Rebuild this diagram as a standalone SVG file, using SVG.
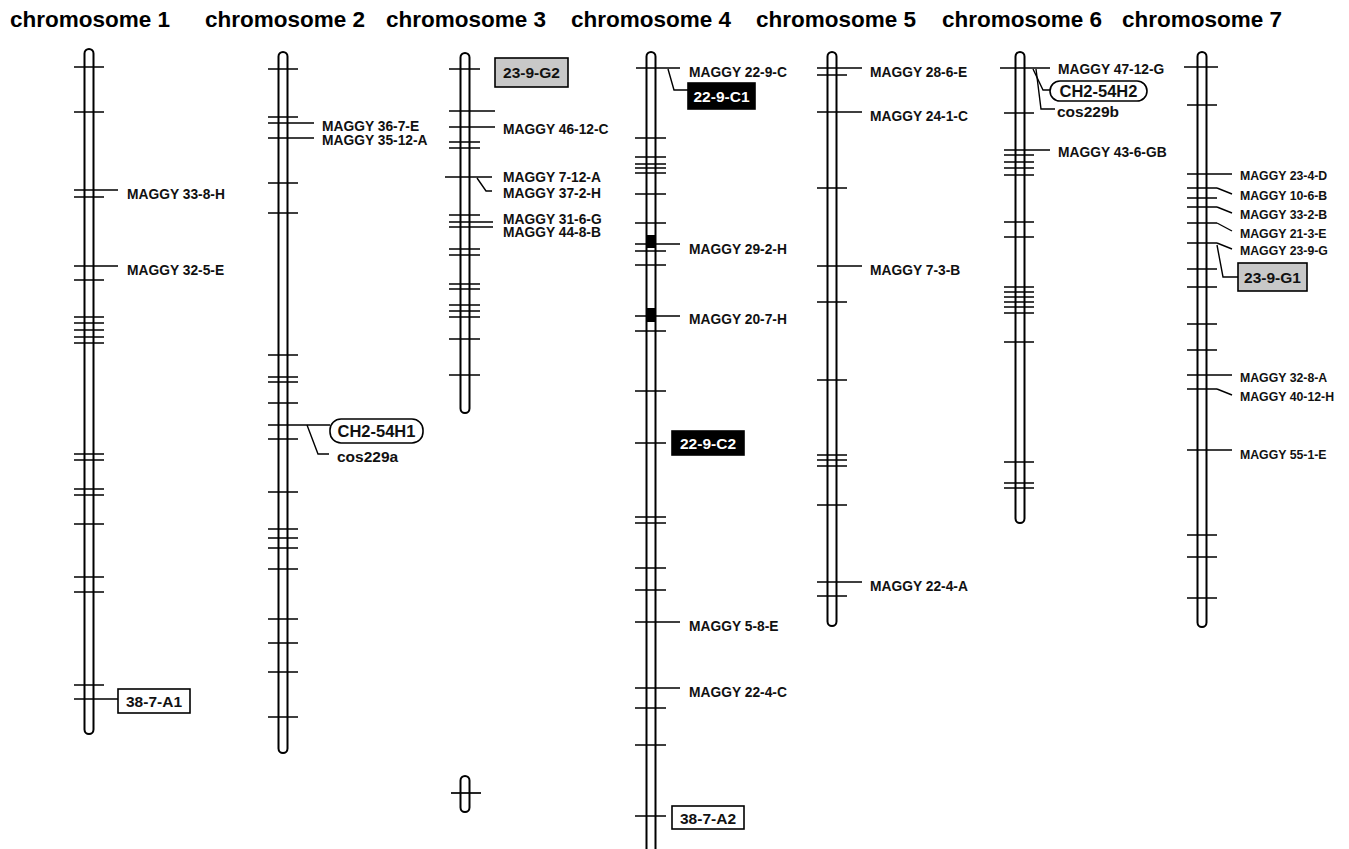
<svg xmlns="http://www.w3.org/2000/svg" width="1349" height="849" viewBox="0 0 1349 849">
<style>
.title{font-family:"Liberation Sans",Arial,sans-serif;font-weight:bold;font-size:22.5px;fill:#000}
.lbl{font-family:"Liberation Sans",Arial,sans-serif;font-weight:bold;font-size:13.8px;fill:#111}
.lbl7{font-family:"Liberation Sans",Arial,sans-serif;font-weight:bold;font-size:12.3px;fill:#111}
.btxt{font-family:"Liberation Sans",Arial,sans-serif;font-weight:bold;font-size:15.5px;fill:#111;text-anchor:middle}
.btxtw{font-family:"Liberation Sans",Arial,sans-serif;font-weight:bold;font-size:15.5px;fill:#fff;text-anchor:middle}
.ctxt{font-family:"Liberation Sans",Arial,sans-serif;font-weight:bold;font-size:16.5px;fill:#111}
.cos{font-family:"Liberation Sans",Arial,sans-serif;font-weight:bold;font-size:15.5px;fill:#111}
.tube{fill:#fff;stroke:#000;stroke-width:2}
.tick{fill:none;stroke:#000;stroke-width:1.7}
.lead{fill:none;stroke:#000;stroke-width:1.4}
.boxw{fill:#fff;stroke:#000;stroke-width:1.6}
.boxg{fill:#c8c8c8;stroke:#000;stroke-width:1.6}
.boxb{fill:#000;stroke:#000;stroke-width:1.6}
.boxr{fill:#fff;stroke:#000;stroke-width:1.6}
</style>
<rect width="1349" height="849" fill="#fff"/>
<g id="titles">
<text class="title" x="10" y="27">chromosome 1</text>
<text class="title" x="205" y="27">chromosome 2</text>
<text class="title" x="386" y="27">chromosome 3</text>
<text class="title" x="571" y="27">chromosome 4</text>
<text class="title" x="756" y="27">chromosome 5</text>
<text class="title" x="942" y="27">chromosome 6</text>
<text class="title" x="1122" y="27">chromosome 7</text>
</g>
<g id="chromosome1">
<rect class="tube" x="84.5" y="49" width="9" height="685" rx="4.5"/>
<path class="tick" d="M74 67H104M74 112H104M74 190H118M74 197H104M74 266H118M74 280H104M74 317H104M74 323H104M74 330H104M74 337H104M74 343H104M74 454H104M74 460H104M74 489H104M74 495H104M74 524H104M74 577H104M74 592H104M74 685H104M74 699H118"/>
<text class="lbl" x="127" y="199">MAGGY 33-8-H</text>
<text class="lbl" x="127" y="275">MAGGY 32-5-E</text>
<rect class="boxw" x="118" y="689" width="72" height="24"/>
<text class="btxt" x="154" y="707">38-7-A1</text>
</g>
<g id="chromosome2">
<rect class="tube" x="278.5" y="52" width="9" height="701" rx="4.5"/>
<path class="tick" d="M268 69H298M268 117H298M268 123H314M268 138H314M268 183H298M268 213H298M268 355H298M268 377H298M268 382H298M268 403H298M268 425H330M268 439H298M268 492H298M268 529H298M268 538H298M268 548H298M268 569H298M268 619H298M268 643H298M268 672H298M268 717H298"/>
<text class="lbl" x="322" y="131">MAGGY 36-7-E</text>
<text class="lbl" x="322" y="145">MAGGY 35-12-A</text>
<rect class="boxr" x="330" y="419" width="93" height="24" rx="11"/>
<text class="ctxt" x="376.5" y="437" text-anchor="middle">CH2-54H1</text>
<text class="cos" x="337" y="462">cos229a</text>
</g>
<g id="chromosome3">
<rect class="tube" x="460.5" y="53" width="9" height="360" rx="4.5"/>
<path class="tick" d="M449 69H480M449 111H495M449 127H495M449 142H480M449 148H480M445 177H492M449 215H480M449 222H493M449 227H493M449 249H480M449 255H480M449 284H480M449 289H480M449 305H480M449 311H480M449 317H480M449 339H480M449 375H480"/>
<rect class="boxg" x="495" y="58" width="73" height="29"/>
<text class="btxt" x="531.5" y="78">23-9-G2</text>
<text class="lbl" x="503" y="134">MAGGY 46-12-C</text>
<text class="lbl" x="503" y="182">MAGGY 7-12-A</text>
<text class="lbl" x="503" y="198">MAGGY 37-2-H</text>
<text class="lbl" x="503" y="224">MAGGY 31-6-G</text>
<text class="lbl" x="503" y="237">MAGGY 44-8-B</text>
<rect class="tube" x="460.5" y="776" width="9" height="36" rx="4.5"/>
<path class="tick" d="M451 793H481"/>
</g>
<g id="chromosome4">
<rect class="tube" x="646.5" y="52" width="9" height="830" rx="4.5"/>
<rect x="647" y="235" width="8" height="13" fill="#000"/>
<rect x="647" y="308" width="8" height="14" fill="#000"/>
<path class="tick" d="M636 68H680M635 138H666M635 157H666M635 164H666M635 168H666M635 173H666M635 194H666M635 223H666M635 244H680M635 251H666M635 265H666M635 316H680M635 331H666M635 391H666M635 443H666M635 517H666M635 523H666M635 568H666M635 590H666M635 622H680M635 688H680M635 708H666M635 745H666M635 816H666"/>
<text class="lbl" x="689" y="77">MAGGY 22-9-C</text>
<rect class="boxb" x="688" y="83" width="67" height="26"/>
<text class="btxtw" x="721.5" y="102">22-9-C1</text>
<text class="lbl" x="689" y="254">MAGGY 29-2-H</text>
<text class="lbl" x="689" y="324">MAGGY 20-7-H</text>
<rect class="boxb" x="672" y="431" width="72" height="24"/>
<text class="btxtw" x="708" y="449">22-9-C2</text>
<text class="lbl" x="689" y="631">MAGGY 5-8-E</text>
<text class="lbl" x="689" y="697">MAGGY 22-4-C</text>
<rect class="boxw" x="672" y="806" width="72" height="23"/>
<text class="btxt" x="708" y="823.5">38-7-A2</text>
</g>
<g id="chromosome5">
<rect class="tube" x="827.5" y="52" width="9" height="574" rx="4.5"/>
<path class="tick" d="M817 68H862M817 75H847M817 112H862M817 188H847M817 266H862M817 302H847M817 380H847M817 455H847M817 460H847M817 466H847M817 505H847M817 582H862M817 596H847"/>
<text class="lbl" x="870" y="77">MAGGY 28-6-E</text>
<text class="lbl" x="870" y="121">MAGGY 24-1-C</text>
<text class="lbl" x="870" y="275">MAGGY 7-3-B</text>
<text class="lbl" x="870" y="591">MAGGY 22-4-A</text>
</g>
<g id="chromosome6">
<rect class="tube" x="1015.5" y="52" width="9" height="471" rx="4.5"/>
<path class="tick" d="M1000 68H1050M1004 113H1034M1004 150H1050M1004 155H1034M1004 162H1034M1004 168H1034M1004 175H1034M1004 222H1034M1004 237H1034M1004 287H1034M1004 292H1034M1004 297H1034M1004 302H1034M1004 307H1034M1004 313H1034M1004 342H1034M1004 462H1034M1004 483H1034M1004 488H1034"/>
<text class="lbl" x="1058" y="74">MAGGY 47-12-G</text>
<rect class="boxr" x="1050" y="81" width="97" height="20" rx="10"/>
<text class="ctxt" x="1098.5" y="97" text-anchor="middle">CH2-54H2</text>
<text class="cos" x="1057" y="117">cos229b</text>
<text class="lbl" x="1058" y="157">MAGGY 43-6-GB</text>
</g>
<g id="chromosome7">
<rect class="tube" x="1197.5" y="52" width="9" height="575" rx="4.5"/>
<path class="tick" d="M1184 67H1218M1187 105H1217M1187 174H1232M1187 188H1217M1187 198H1217M1187 207H1217M1187 223H1217M1187 243H1217M1187 269H1217M1187 287H1217M1187 324H1217M1187 350H1217M1187 375H1232M1187 389H1217M1187 450H1232M1187 535H1217M1187 557H1217M1187 598H1217"/>
<text class="lbl7" x="1240" y="180">MAGGY 23-4-D</text>
<text class="lbl7" x="1240" y="200">MAGGY 10-6-B</text>
<text class="lbl7" x="1240" y="219">MAGGY 33-2-B</text>
<text class="lbl7" x="1240" y="238">MAGGY 21-3-E</text>
<text class="lbl7" x="1240" y="255">MAGGY 23-9-G</text>
<rect class="boxg" x="1238" y="263" width="69" height="28"/>
<text class="btxt" x="1272.5" y="283">23-9-G1</text>
<text class="lbl7" x="1240" y="382">MAGGY 32-8-A</text>
<text class="lbl7" x="1240" y="401">MAGGY 40-12-H</text>
<text class="lbl7" x="1240" y="459">MAGGY 55-1-E</text>
</g>
<g id="connectors">
<path class="lead" d="M307 425L318 454H329"/>
<path class="lead" d="M477 178L486 191H492"/>
<path class="lead" d="M668 69L674 90H688"/>
<path class="lead" d="M1033 69L1043 90H1050"/>
<path class="lead" d="M1036 69L1041 109H1055"/>
<path class="lead" d="M1217 188L1232 194"/>
<path class="lead" d="M1217 207L1232 213"/>
<path class="lead" d="M1217 223L1232 231"/>
<path class="lead" d="M1217 243L1232 249"/>
<path class="lead" d="M1217 389L1232 395"/>
<path class="lead" d="M1217 245L1223 277H1238"/>
</g>
</svg>
